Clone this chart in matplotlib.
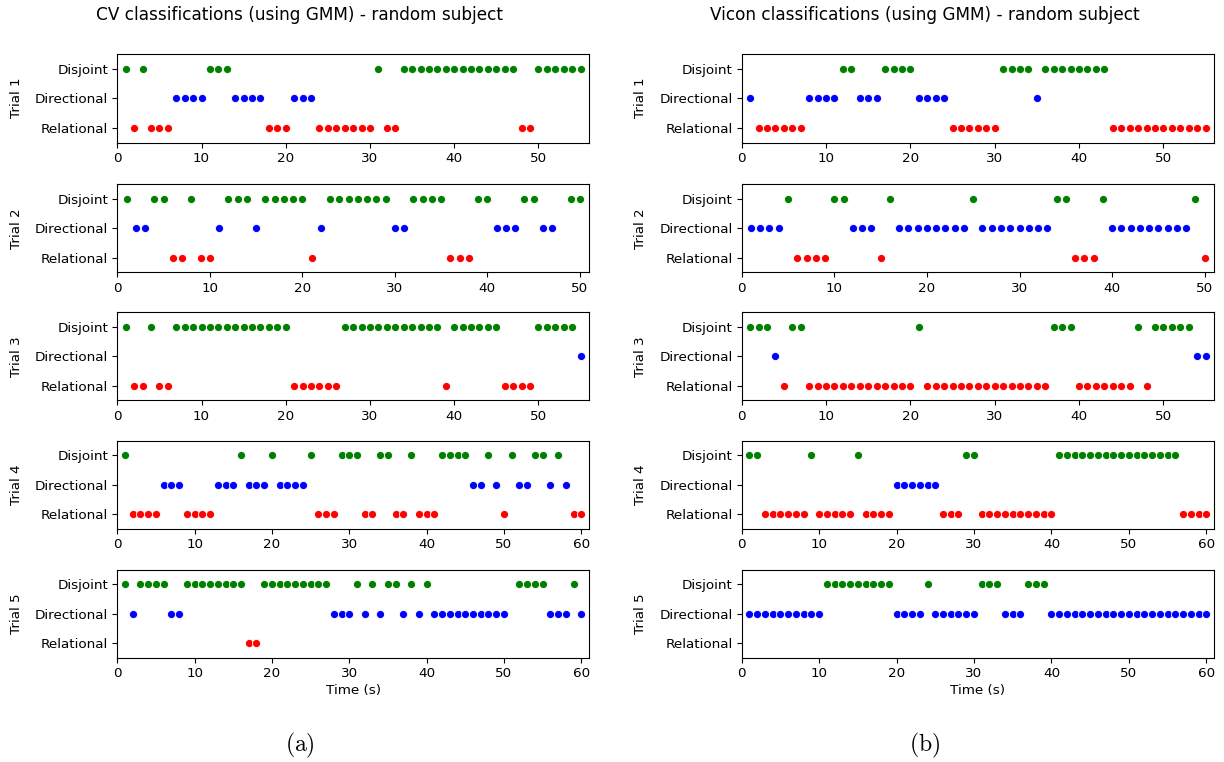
import numpy as np
import matplotlib
matplotlib.use("Agg")
from matplotlib import pyplot as plt

plt.rcParams["mathtext.fontset"] = "cm"

# class per second, t = 1..N
# J = Disjoint, D = Directional, R = Relational, - = nothing
CLASS_NAMES = ["Relational", "Directional", "Disjoint"]
CODES = {"R": 0, "D": 1, "J": 2}
COLORS = {"R": "red", "D": "blue", "J": "green"}

cv_trial1 = "JRJRRRDDDD JJJDDDDRRR DDDRRRRRRR JRRJJJJJJJ JJJJJJJRRJ JJJJJ"
cv_trial2 = "JDDJJRRJRR DJJJDJJJJJ RDJJJJJJJD DJJJJRRRJJ DDDJJDD-JJ"
cv_trial3 = "JRRJRRJJJJ JJJJJJJJJJ RRRRRRJJJJ JJJJJJJJRJ JJJJJRRRRJ JJJJD"
cv_trial4 = "JRRRRDDDRR RRDDDJDDDJ DDDDJRRRJJ JRRJJRRJRR RJJJJDDJDR JDDJJDJDRR"
cv_trial5 = "JDJJJJDDJJ JJJJJJRRJJ JJJJJJJDDD JDJDJJDJDJ DDDDDDDDDD -JJJJDDDJD"

vicon_trial1 = "DRRRRRRDDD DJJDDDJJJJ DDDDRRRRRR JJJJDJJJJJ JJJRRRRRRR RRRRR"
vicon_trial2 = "DDDDJRRRRJ JDDDRJDDDD DDDDJDDDDD DDDJJRRRJD DDDDDDDDJR"
vicon_trial3 = "JJJDRJJRRR RRRRRRRRRR JRRRRRRRRR RRRRRRJJJR RRRRRRJRJJ JJJDD"
vicon_trial4 = "JJRRRRRRJR RRRRJRRRRD DDDDDRRRJJ RRRRRRRRRR JJJJJJJJJJ JJJJJJRRRR"
vicon_trial5 = "DDDDDDDDDD JJJJJJJJJD DDDJDDDDDD JJJDDDJJJD DDDDDDDDDD DDDDDDDDDD"

cv_trials = [cv_trial1, cv_trial2, cv_trial3, cv_trial4, cv_trial5]
vicon_trials = [vicon_trial1, vicon_trial2, vicon_trial3, vicon_trial4, vicon_trial5]

W, H = 1224, 762
fig = plt.figure(figsize=(W / 100, H / 100), dpi=100)

AX_TOPS = [54, 184, 312, 440.5, 569.5]  # px
AX_H = 88.5
COLS = [(117.3, 471.7, cv_trials), (741.7, 472.3, vicon_trials)]
FS = 9.7


def draw_trial(ax, seq, show_xlabel):
    seq = seq.replace(" ", "")
    n = len(seq)
    for code in ["J", "D", "R"]:
        t = [i + 1 for i, c in enumerate(seq) if c == code]
        if not t:
            continue
        ax.scatter(t, [CODES[code]] * len(t), s=34, c=COLORS[code],
                   edgecolors="white", linewidths=0.6, zorder=3)
    ax.set_xlim(0, n + 1)
    ax.set_ylim(-0.5, 2.5)
    ax.set_yticks([0, 1, 2])
    ax.set_yticklabels(CLASS_NAMES)
    ax.tick_params(labelsize=FS, length=3.5, width=0.8, pad=3)
    if show_xlabel:
        ax.set_xlabel("Time (s)", fontsize=FS, labelpad=3)


for x0, w, trials in COLS:
    for k, seq in enumerate(trials):
        top = AX_TOPS[k]
        ax = fig.add_axes([x0 / W, 1 - (top + AX_H) / H, w / W, AX_H / H])
        draw_trial(ax, seq, k == 4)
        ax.set_ylabel(f"Trial {k + 1}", fontsize=FS, labelpad=9)

fig.text(300 / W, 1 - 15 / H, "CV classifications (using GMM) - random subject",
         ha="center", va="center", fontsize=12.2)
fig.text(925 / W, 1 - 15 / H, "Vicon classifications (using GMM) - random subject",
         ha="center", va="center", fontsize=12.2)
fig.text(300 / W, 1 - 745 / H, r"$\mathrm{(a)}$", ha="center", va="center", fontsize=17)
fig.text(925 / W, 1 - 745 / H, r"$\mathrm{(b)}$", ha="center", va="center", fontsize=17)

fig.savefig("out.png", dpi=100)
